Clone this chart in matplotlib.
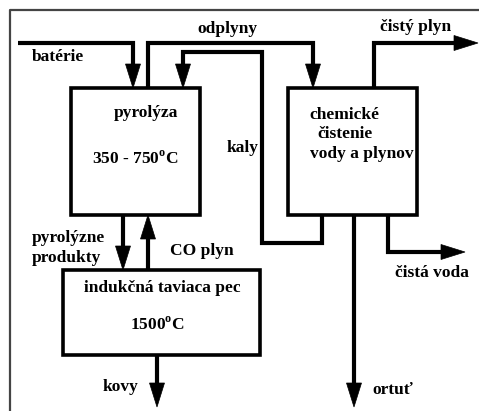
import matplotlib
matplotlib.use("Agg")
import matplotlib.pyplot as plt
from matplotlib.patches import Polygon, Rectangle
import numpy as np

plt.rcParams['font.family'] = ['Liberation Serif', 'DejaVu Serif']
plt.rcParams['font.weight'] = 'bold'
plt.rcParams['mathtext.fontset'] = 'custom'
plt.rcParams['mathtext.rm'] = 'Liberation Serif:bold'

W, H = 479, 411

# boxes: (x0, y0, x1, y1) in pixel coords, y down
boxes = {
    'pyrolyza': (71, 88, 200, 215),
    'chem': (288, 88, 417, 215),
    'pec': (63, 270, 260, 355),
}

# flows, all end with an arrowhead
flows = {
    'baterie': [(18, 43), (133, 43), (133, 88)],
    'odplyny': [(148, 88), (148, 43), (313, 43), (313, 88)],
    'kaly': [(322, 215), (322, 243), (262, 243), (262, 52), (183, 52), (183, 88)],
    'cisty_plyn': [(374, 88), (374, 43), (478, 43)],
    'cista_voda': [(388, 215), (388, 252), (465, 252)],
    'ortut': [(354, 215), (354, 407)],
    'produkty': [(123, 215), (123, 270)],
    'co_plyn': [(148, 270), (148, 215)],
    'kovy': [(157, 355), (157, 407)],
}

# labels: text, x, y, ha
labels = [
    ('batérie', 32, 57, 'left'),
    ('odplyny', 227, 29, 'center'),
    ('pyrolýza', 146, 113, 'center'),
    ('350 - 750$^{\\mathrm{o}}$C', 135, 159, 'center'),
    ('kaly', 227, 148, 'left'),
    ('chemické', 309, 115, 'left'),
    ('čistenie', 317, 134, 'left'),
    ('vody a plynov', 310, 154, 'left'),
    ('čistý plyn', 380, 27, 'left'),
    ('pyrolýzne', 32, 238, 'left'),
    ('produkty', 32, 258, 'left'),
    ('CO plyn', 170, 251, 'left'),
    ('indukčná taviaca pec', 162, 288, 'center'),
    ('1500$^{\\mathrm{o}}$C', 157, 325, 'center'),
    ('kovy', 138, 387, 'right'),
    ('čistá voda', 395, 273, 'left'),
    ('ortuť', 372, 390, 'left'),
]

fig = plt.figure(figsize=(W / 100, H / 100), dpi=100)
ax = fig.add_axes([0, 0, 1, 1])
ax.set_xlim(0, W)
ax.set_ylim(H, 0)
ax.axis('off')

# frame (left and top only, runs off the image)
ax.plot([10, 10, W + 5], [H + 5, 10, 10], color='#444444', lw=1.6)

for x0, y0, x1, y1 in boxes.values():
    ax.add_patch(Rectangle((x0, y0), x1 - x0, y1 - y0, fill=False,
                           ec='black', lw=2.6, joinstyle='miter'))

head_len, head_w = 24, 15
for pts in flows.values():
    pts = np.array(pts, dtype=float)
    tip = pts[-1]
    d = tip - pts[-2]
    d /= np.linalg.norm(d)
    base = tip - d * head_len
    line = np.vstack([pts[:-1], base + d * 2])
    ax.plot(line[:, 0], line[:, 1], color='black', lw=3.0,
            solid_joinstyle='miter', solid_capstyle='butt')
    n = np.array([-d[1], d[0]])
    ax.add_patch(Polygon([tip, base + n * head_w / 2, base - n * head_w / 2],
                         closed=True, fc='black', ec='black', lw=0.5))

for txt, x, y, ha in labels:
    ax.text(x, y, txt, ha=ha, va='center', fontsize=12.5, fontweight='bold')

fig.savefig('out.png', dpi=100)
